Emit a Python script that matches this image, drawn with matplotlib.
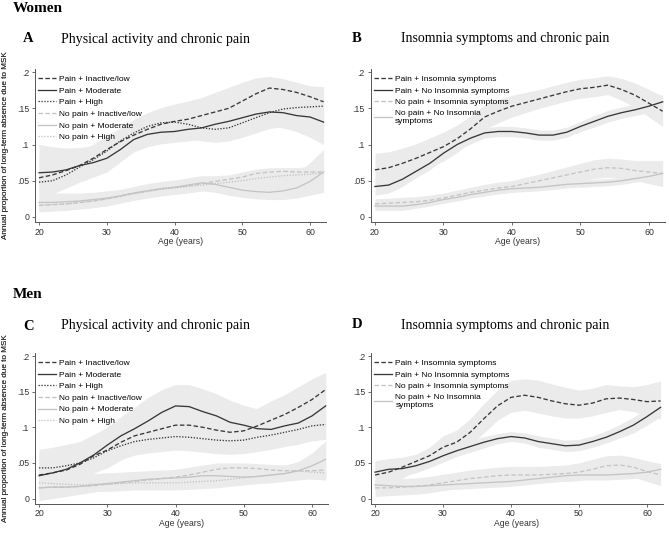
import matplotlib
matplotlib.use("Agg")
import matplotlib.pyplot as plt

# age grid (years)
ages = list(range(20, 63, 2))

# ---- Women, physical activity (A) ----
wa_pain_inact = [.054, .058, .064, .071, .081, .093, .104, .113, .121, .128, .132, .135, .140, .145, .150, .160, .170, .178, .176, .172, .166, .159]
wa_pain_inact_lo = [.035, .038, .045, .052, .062, .072, .084, .094, .100, .105, .108, .112, .117, .122, .126, .135, .148, .160, .158, .152, .145, .135]
wa_pain_inact_hi = [.085, .085, .088, .092, .100, .112, .123, .135, .144, .151, .156, .160, .165, .172, .179, .186, .192, .194, .191, .186, .181, .180]
wa_pain_mod = [.061, .062, .065, .071, .075, .081, .093, .107, .114, .117, .118, .121, .123, .128, .132, .137, .142, .145, .144, .140, .138, .131]
wa_pain_mod_lo = [.030, .032, .040, .048, .055, .062, .076, .090, .097, .101, .103, .105, .107, .110, .114, .118, .122, .125, .123, .118, .110, .100]
wa_pain_mod_hi = [.100, .097, .095, .096, .098, .102, .112, .125, .132, .134, .135, .138, .140, .145, .150, .155, .160, .163, .163, .160, .160, .160]
wa_pain_high = [.048, .050, .058, .069, .079, .091, .105, .116, .125, .130, .131, .128, .123, .121, .123, .130, .137, .144, .149, .151, .152, .153]
wa_pain_high_lo = [.030, .032, .040, .050, .060, .070, .085, .096, .104, .108, .110, .108, .105, .103, .105, .110, .116, .122, .125, .125, .124, .122]
wa_pain_high_hi = [.075, .075, .082, .092, .100, .110, .122, .134, .143, .148, .150, .148, .145, .145, .150, .158, .165, .172, .178, .180, .180, .180]
wa_nop_inact = [.016, .017, .018, .020, .022, .025, .029, .033, .036, .039, .041, .043, .046, .049, .052, .055, .060, .062, .063, .062, .062, .062]
wa_nop_inact_lo = [.007, .008, .009, .011, .013, .016, .020, .024, .027, .030, .032, .034, .036, .040, .044, .046, .050, .053, .055, .054, .052, .050]
wa_nop_inact_hi = [.030, .030, .031, .031, .032, .034, .037, .041, .044, .048, .050, .053, .056, .057, .058, .062, .066, .068, .068, .068, .070, .072]
wa_nop_mod = [.020, .020, .021, .022, .024, .026, .029, .033, .036, .039, .041, .044, .047, .045, .041, .037, .035, .034, .036, .040, .049, .062]
wa_nop_mod_lo = [.008, .009, .010, .011, .013, .015, .019, .023, .026, .029, .031, .033, .036, .034, .030, .027, .025, .024, .024, .026, .030, .034]
wa_nop_mod_hi = [.033, .033, .033, .033, .034, .036, .038, .042, .046, .049, .051, .054, .057, .056, .053, .050, .049, .050, .054, .060, .075, .093]
wa_nop_high = [.016, .017, .018, .020, .022, .025, .028, .032, .035, .038, .040, .042, .044, .046, .048, .050, .053, .055, .057, .058, .059, .061]
wa_nop_high_lo = [.009, .010, .011, .013, .015, .018, .021, .025, .028, .031, .033, .035, .037, .039, .041, .043, .046, .048, .050, .051, .052, .054]
wa_nop_high_hi = [.024, .025, .026, .028, .030, .033, .036, .040, .043, .046, .048, .050, .052, .054, .056, .058, .061, .063, .065, .066, .067, .069]

# ---- Women, insomnia (B) ----
wb_pain_ins = [.065, .068, .074, .081, .089, .097, .108, .122, .138, .146, .153, .158, .163, .168, .173, .177, .179, .182, .176, .168, .157, .146]
wb_pain_ins_lo = [.042, .046, .053, .061, .069, .077, .089, .104, .121, .130, .138, .144, .150, .155, .160, .164, .166, .169, .161, .151, .138, .125]
wb_pain_ins_hi = [.088, .090, .095, .101, .109, .117, .127, .140, .155, .162, .168, .172, .176, .181, .186, .190, .192, .195, .191, .185, .176, .167]
wb_pain_noins = [.042, .044, .052, .063, .074, .088, .100, .109, .116, .118, .118, .116, .113, .113, .117, .125, .132, .139, .144, .148, .153, .159]
wb_pain_noins_lo = [.030, .033, .042, .054, .065, .080, .092, .101, .109, .111, .111, .109, .106, .106, .110, .118, .124, .131, .136, .140, .144, .149]
wb_pain_noins_hi = [.054, .055, .062, .072, .083, .096, .108, .117, .123, .125, .125, .123, .120, .120, .124, .132, .140, .147, .152, .156, .162, .169]
wb_nop_ins = [.018, .019, .020, .021, .023, .026, .030, .034, .037, .040, .042, .046, .050, .054, .058, .062, .066, .068, .067, .064, .062, .060]
wb_nop_ins_lo = [.011, .012, .013, .014, .016, .019, .023, .027, .029, .032, .034, .037, .041, .044, .047, .050, .053, .055, .054, .050, .046, .042]
wb_nop_ins_hi = [.025, .026, .027, .028, .030, .033, .037, .041, .045, .048, .050, .055, .059, .064, .069, .074, .079, .081, .080, .078, .078, .078]
wb_nop_noins = [.015, .015, .015, .017, .020, .024, .027, .031, .034, .037, .039, .040, .041, .043, .045, .046, .047, .048, .050, .053, .056, .060]
wb_nop_noins_lo = [.009, .009, .009, .012, .015, .019, .022, .026, .029, .032, .034, .035, .036, .038, .040, .041, .042, .043, .045, .048, .051, .054]
wb_nop_noins_hi = [.021, .021, .021, .022, .025, .029, .032, .036, .039, .042, .044, .045, .046, .048, .050, .051, .052, .053, .055, .058, .061, .066]

# ---- Men, physical activity (C) ----
mc_pain_inact = [.033, .036, .040, .048, .060, .068, .079, .088, .093, .098, .103, .103, .100, .096, .093, .095, .102, .110, .118, .128, .139, .153]
mc_pain_inact_lo = [.008, .010, .015, .025, .036, .043, .054, .063, .068, .072, .077, .078, .075, .072, .070, .072, .078, .085, .092, .100, .110, .128]
mc_pain_inact_hi = [.060, .062, .065, .072, .085, .094, .105, .114, .119, .124, .128, .128, .125, .121, .118, .120, .127, .137, .146, .157, .168, .177]
mc_pain_mod = [.032, .036, .041, .050, .061, .075, .088, .098, .109, .121, .130, .129, .122, .116, .107, .103, .098, .097, .102, .106, .116, .130]
mc_pain_mod_lo = [.005, .008, .012, .020, .035, .048, .060, .070, .080, .090, .100, .098, .092, .087, .080, .077, .073, .070, .074, .076, .082, .095]
mc_pain_mod_hi = [.069, .072, .076, .080, .090, .100, .115, .128, .142, .153, .160, .160, .154, .147, .138, .131, .126, .127, .132, .140, .152, .165]
mc_pain_high = [.043, .043, .046, .050, .057, .067, .074, .080, .083, .085, .087, .086, .084, .082, .081, .082, .086, .089, .093, .097, .102, .104]
mc_pain_high_lo = [.020, .022, .026, .030, .037, .047, .055, .061, .064, .066, .068, .067, .065, .063, .062, .063, .066, .069, .073, .077, .081, .083]
mc_pain_high_hi = [.065, .065, .068, .071, .077, .087, .094, .100, .103, .105, .107, .106, .104, .102, .101, .102, .106, .109, .113, .117, .122, .125]
mc_nop_inact = [.015, .016, .016, .017, .018, .020, .022, .024, .026, .028, .030, .033, .037, .041, .043, .043, .042, .040, .039, .039, .039, .040]
mc_nop_inact_lo = [.003, .005, .006, .008, .010, .012, .014, .016, .018, .019, .021, .024, .027, .031, .034, .035, .034, .032, .031, .030, .030, .030]
mc_nop_inact_hi = [.027, .028, .028, .029, .030, .031, .033, .035, .037, .039, .041, .044, .047, .050, .050, .050, .049, .048, .047, .047, .048, .050]
mc_nop_mod = [.015, .016, .016, .017, .019, .021, .023, .025, .027, .028, .029, .030, .032, .032, .031, .030, .031, .033, .035, .039, .046, .055]
mc_nop_mod_lo = [-.003, .000, .003, .006, .009, .012, .014, .016, .018, .018, .019, .020, .022, .022, .021, .020, .021, .022, .024, .026, .028, .029]
mc_nop_mod_hi = [.033, .033, .033, .034, .035, .036, .037, .038, .039, .040, .040, .040, .042, .042, .041, .040, .041, .043, .046, .052, .064, .081]
mc_nop_high = [.022, .021, .020, .019, .020, .020, .021, .022, .022, .022, .022, .023, .024, .025, .027, .029, .031, .033, .035, .039, .037, .036]
mc_nop_high_lo = [.012, .011, .010, .009, .010, .010, .011, .012, .012, .012, .012, .013, .014, .015, .017, .019, .021, .023, .025, .029, .027, .026]
mc_nop_high_hi = [.034, .033, .032, .031, .032, .032, .033, .034, .034, .034, .034, .035, .036, .037, .039, .041, .043, .045, .047, .051, .049, .048]

# ---- Men, insomnia (D) ----
md_pain_ins = [.033, .037, .044, .052, .060, .072, .079, .093, .112, .130, .142, .145, .142, .137, .133, .131, .134, .140, .141, .139, .136, .137]
md_pain_ins_lo = [.015, .018, .028, .040, .048, .057, .063, .075, .092, .110, .121, .124, .120, .116, .113, .113, .116, .121, .125, .122, .116, .112]
md_pain_ins_hi = [.053, .056, .058, .062, .072, .088, .096, .112, .133, .152, .166, .168, .166, .161, .156, .152, .155, .160, .158, .157, .160, .165]
md_pain_noins = [.037, .041, .042, .046, .052, .060, .067, .073, .079, .084, .087, .085, .080, .077, .074, .075, .080, .086, .094, .103, .115, .128]
md_pain_noins_lo = [.023, .027, .031, .036, .043, .051, .059, .065, .071, .077, .080, .078, .072, .069, .066, .067, .072, .078, .085, .092, .103, .115]
md_pain_noins_hi = [.052, .053, .053, .056, .061, .069, .075, .081, .087, .091, .094, .092, .088, .085, .082, .083, .088, .095, .104, .114, .127, .141]
md_nop_ins = [.015, .015, .016, .017, .019, .022, .025, .028, .030, .032, .033, .033, .033, .034, .035, .037, .041, .046, .047, .044, .038, .033]
md_nop_ins_lo = [.003, .004, .005, .006, .008, .011, .014, .016, .018, .020, .021, .021, .022, .023, .024, .025, .028, .032, .033, .030, .024, .018]
md_nop_ins_hi = [.027, .027, .028, .029, .031, .034, .037, .040, .042, .044, .045, .045, .045, .046, .047, .050, .055, .060, .061, .058, .053, .049]
md_nop_noins = [.019, .018, .017, .017, .018, .019, .020, .021, .022, .023, .024, .026, .028, .030, .032, .033, .033, .033, .034, .035, .037, .041]
md_nop_noins_lo = [.012, .011, .010, .010, .011, .012, .013, .014, .015, .016, .017, .019, .021, .023, .025, .026, .026, .026, .027, .028, .030, .034]
md_nop_noins_hi = [.027, .026, .025, .025, .026, .027, .028, .029, .030, .031, .032, .034, .036, .038, .040, .041, .041, .041, .042, .043, .045, .049]

pa_labels = ["Pain + Inactive/low", "Pain + Moderate", "Pain + High",
             "No pain + Inactive/low", "No pain + Moderate", "No pain + High"]
ins_labels = ["Pain + Insomnia symptoms", "Pain + No Insomnia symptoms",
              "No pain + Insomnia symptoms", "No pain + No Insomnia\nsymptoms"]

yticks = [0, .05, .1, .15, .2]
ytick_labels = ["0", ".05", ".1", ".15", ".2"]
xticks = [20, 30, 40, 50, 60]

DARK = "#383838"
LIGHT = "#c4c4c4"
BAND = "#ebebeb"
DASH = (0, (3.4, 1.8))
DOT = (0, (1.0, 1.2))
SANS = "Liberation Sans"
SERIF = "Liberation Serif"

W, H = 669, 533
fig = plt.figure(figsize=(W / 100, H / 100), dpi=100)


def px_axes(left, right, top, bottom):
    return fig.add_axes([left / W, 1 - bottom / H, (right - left) / W, (bottom - top) / H])


def panel(ax, series, labels):
    for mean, lo, hi, col, ls in series:
        ax.fill_between(ages, lo, hi, color=BAND, lw=0, zorder=1)
    # light (no pain) lines first so dark lines sit on top
    n = len(series)
    order = list(range(n // 2, n)) + list(range(n // 2))
    lines = {}
    for i in order:
        mean, lo, hi, col, ls = series[i]
        ln, = ax.plot(ages, mean, color=col, ls=ls, lw=0.95, zorder=3)
        lines[i] = ln
    handles = [lines[i] for i in range(n)]
    ax.legend(handles, labels, loc="upper left", bbox_to_anchor=(0.012, 0.955),
              frameon=False, borderaxespad=0, borderpad=0, handlelength=2.1,
              handletextpad=0.45, labelspacing=0.45,
              prop={"family": SANS, "size": 6})
    ax.set_xlim(19.35, 62.4)
    ax.set_ylim(-0.007, 0.205)
    ax.set_xticks(xticks)
    ax.set_yticks(yticks)
    ax.set_yticklabels(ytick_labels)
    for s in ["top", "right"]:
        ax.spines[s].set_visible(False)
    for s in ["left", "bottom"]:
        ax.spines[s].set_color("#555555")
        ax.spines[s].set_linewidth(0.7)
    ax.tick_params(length=2.5, width=0.6, color="#555555", pad=1.5,
                   labelsize=6.3, labelcolor="#333333")
    for t in ax.get_xticklabels() + ax.get_yticklabels():
        t.set_family(SANS)
    ax.set_xlabel("Age (years)", fontsize=6.2, family=SANS, color="#333333", labelpad=0.5)


def ylab(ax):
    bb = ax.get_position()
    fig.text(5.5 / W, bb.y0 + bb.height / 2,
             "Annual proportion of long-term absence due to MSK",
             rotation=90, ha="center", va="center", fontsize=5.9, family=SANS, color="#333333")


def titles(letter, text, xl, xt, ybase):
    fig.text(xl / W, 1 - ybase / H, letter, fontsize=10.5, family=SERIF, weight="bold", va="baseline")
    fig.text(xt / W, 1 - ybase / H, text, fontsize=10, family=SERIF, va="baseline")


axA = px_axes(34.6, 326.3, 68.5, 222)
panel(axA, [(wa_pain_inact, wa_pain_inact_lo, wa_pain_inact_hi, DARK, DASH),
            (wa_pain_mod, wa_pain_mod_lo, wa_pain_mod_hi, DARK, "-"),
            (wa_pain_high, wa_pain_high_lo, wa_pain_high_hi, DARK, DOT),
            (wa_nop_inact, wa_nop_inact_lo, wa_nop_inact_hi, LIGHT, DASH),
            (wa_nop_mod, wa_nop_mod_lo, wa_nop_mod_hi, LIGHT, "-"),
            (wa_nop_high, wa_nop_high_lo, wa_nop_high_hi, LIGHT, DOT)], pa_labels)

axB = px_axes(370.5, 665.4, 68.5, 222)
panel(axB, [(wb_pain_ins, wb_pain_ins_lo, wb_pain_ins_hi, DARK, DASH),
            (wb_pain_noins, wb_pain_noins_lo, wb_pain_noins_hi, DARK, "-"),
            (wb_nop_ins, wb_nop_ins_lo, wb_nop_ins_hi, LIGHT, DASH),
            (wb_nop_noins, wb_nop_noins_lo, wb_nop_noins_hi, LIGHT, "-")], ins_labels)

axC = px_axes(34.6, 328.4, 352.5, 503.5)
panel(axC, [(mc_pain_inact, mc_pain_inact_lo, mc_pain_inact_hi, DARK, DASH),
            (mc_pain_mod, mc_pain_mod_lo, mc_pain_mod_hi, DARK, "-"),
            (mc_pain_high, mc_pain_high_lo, mc_pain_high_hi, DARK, DOT),
            (mc_nop_inact, mc_nop_inact_lo, mc_nop_inact_hi, LIGHT, DASH),
            (mc_nop_mod, mc_nop_mod_lo, mc_nop_mod_hi, LIGHT, "-"),
            (mc_nop_high, mc_nop_high_lo, mc_nop_high_hi, LIGHT, DOT)], pa_labels)

axD = px_axes(370.6, 663.3, 352.5, 503.5)
panel(axD, [(md_pain_ins, md_pain_ins_lo, md_pain_ins_hi, DARK, DASH),
            (md_pain_noins, md_pain_noins_lo, md_pain_noins_hi, DARK, "-"),
            (md_nop_ins, md_nop_ins_lo, md_nop_ins_hi, LIGHT, DASH),
            (md_nop_noins, md_nop_noins_lo, md_nop_noins_hi, LIGHT, "-")], ins_labels)

for ax in [axA, axB, axC, axD]:
    ylab(ax)

fig.text(13 / W, 1 - 12.3 / H, "Women", fontsize=11, family=SERIF, weight="bold", va="baseline")
fig.text(13 / W, 1 - 298.3 / H, "Men", fontsize=11, family=SERIF, weight="bold", va="baseline")
titles("A", "Physical activity and chronic pain", 23, 61, 42.5)
titles("B", "Insomnia symptoms and chronic pain", 352, 401, 42)
titles("C", "Physical activity and chronic pain", 23, 61, 329.5)
titles("D", "Insomnia symptoms and chronic pain", 352, 401, 328.5)

fig.savefig("out.png", dpi=100)
